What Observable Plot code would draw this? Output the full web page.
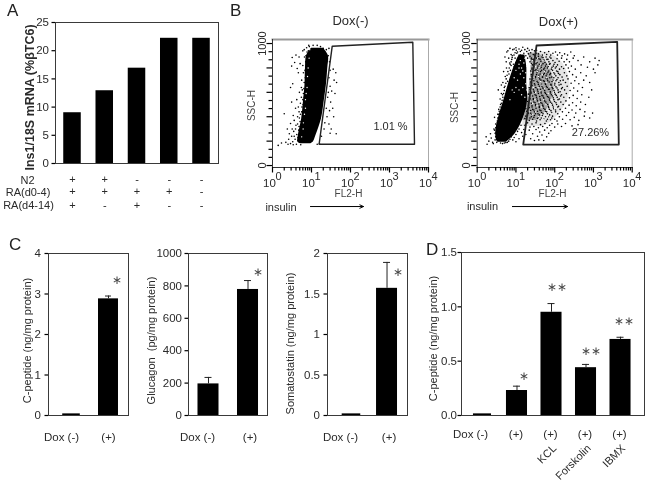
<!DOCTYPE html>
<html><head><meta charset="utf-8">
<script src="https://cdn.jsdelivr.net/npm/d3@7"></script>
<script src="https://cdn.jsdelivr.net/npm/@observablehq/plot@0.6"></script>
<style>
html,body{margin:0;padding:0;background:#fff}
#page{position:relative;width:648px;height:485px;overflow:hidden;font-family:'Liberation Sans',Arial,sans-serif;color:#222;filter:blur(0.3px)}
#page svg{position:absolute;overflow:visible;max-width:none}
.letter{position:absolute;font-size:17px;line-height:17px}
</style></head><body><div id="page"></div>
<script>
// Panel A
const aConditions=["c1","c2","c3","c4","c5"];
const aValues=[9,12.9,16.9,22.2,22.2];
const n2Row=["+","+","-","-","-"];
const ra04Row=["+","+","+","+","-"];
const ra414Row=["+","-","+","-","-"];
const aTicks=[0,5,10,15,20,25];
// Panel C
const doxCats=["Dox (-)","(+)"];
const cPeptide=[0.04,2.88], cPeptideErr=[null,2.95];
const glucagon=[195,778], glucagonErr=[235,833];
const somatostatin=[0.02,1.57], somatostatinErr=[null,1.89];
const cPeptideTicks=[0,1,2,3,4], glucagonTicks=[0,200,400,600,800,1000], somaTicks=[0,0.5,1,1.5,2];
// Panel D
const dCats=["Dox (-)","(+)","KCL","Forskolin","IBMX"];
const dValues=[0.015,0.23,0.95,0.44,0.70], dErr=[null,0.27,1.03,0.47,0.72];
const dTicks=[0,0.5,1,1.5];
// Panel B axes
const fl2Major=[1,10,100,1000,10000];
const fl2Minor=[2,3,4,5,6,7,8,9,20,30,40,50,60,70,80,90,200,300,400,500,600,700,800,900,2000,3000,4000,5000,6000,7000,8000,9000];
const sscMajor=[0,200,400,600,800,1000];
const sscMinor=[67,133,267,333,467,533,667,733,867,933];
// Gates (FL2-H, SSC-H)
const gateMinus=[[34,978],[3958,1011],[4375,175],[15.7,175],[34,978]];
const gatePlus=[[34,984],[4102,1014],[4510,172],[15.4,172],[34,984]];
// Dense cores [SSC-H, FL2-H low, FL2-H high]
const coreMinus=[[178,5.5,9.5],[191,4.5,11],[246,4.6,13],[382,5.6,18],[519,6.2,21],[656,6.8,24],[792,7,26],[902,7.5,27],[962,10,20]];
const corePlus=[[190,3.6,5.6],[197,3.3,6],[265,3,9.8],[400,3.6,16],[538,4.9,20],[675,6.5,19],[811,9,19],[907,12,17]];
const hazeInner=[[370,15,34],[450,18,60],[550,20,85],[650,22,95],[750,24,85],[850,24,60],[920,20,40]];
const hazeOuter=[[320,15,50],[350,15,75],[450,18,150],[550,20,220],[650,22,250],[750,24,220],[850,24,150],[930,20,70]];
// Individually read events
const dotsMinus=[[1.4,165],[1.7,185],[2.2,190],[2.5,175],[2.6,215],[2.9,180],[3.1,240],[3.3,195],[3.5,280],[3.4,170],[3.8,215],[3.9,300],[4.1,175],[4.2,255],[4.4,340],[4.5,205],[4.7,290],[4.9,390],[5,235],[5.3,170],[5.4,320],[5.6,440],[5.9,275],[6,365],[6.1,500],[6.3,400],[6.5,560],[6.8,455],[7,600],[7.2,520],[7.5,660],[5.2,510],[5.5,560],[4.6,480],[3.4,410],[2.9,345],[2.4,300],[2,425],[3.1,520],[3.9,470],[6.4,630],[6.9,720],[7.4,780],[7.1,850],[6.6,890],[7.7,930],[6.2,760],[5.6,700],[4.3,795],[3.7,845],[3.1,815],[3.2,885],[4,905],[4.8,890],[5.1,835],[4.6,760],[3.3,670],[2.9,640],[6,940],[7.5,965],[8.8,975],[28,960],[27,900],[29,850],[30,780],[28,720],[30,650],[27,600],[26,560],[31,520],[24,470],[29,450],[25,400],[22,350],[28,340],[21,300],[30,265],[18,240],[16,180],[14,175],[36,790],[42,760],[38,700],[44,680],[33,610],[40,590],[35,470],[37,400],[32,300],[43,260],[6.7,310],[7.6,420],[7.2,340],[6.6,250],[7.9,600],[8,700],[8.1,850],[7.8,480],[7.3,560],[5.8,620],
[5.5,200],[6,215],[5,260],[5.3,300],[5.6,345],[6,380],[6.3,430],[6.6,470],[7,510],[6.7,540],[7.1,570],[7.4,620],[7.6,690],[7.8,760],[8,820],[8.2,890],[8.3,940],[4.5,230],[4.8,320],[5.1,360],[5.2,420],[5.7,480],[6,540],[6.2,590],[6.5,680],[6.8,780],[7.2,900],[3.6,240],[4,330],[4.4,400],[4.8,440],[3.2,300],[2.7,260],[3.6,370],[4.2,540],[4.9,600],[5.5,640],[6,820],[6.5,950],[8.5,985],[11,985],[14,985],[17,975],[20,960],[24,950],[22,930]];
const flecksMinus=[[6.1,300],[6.6,420],[7,470],[7.3,590],[7.7,640],[7.9,730],[8.2,800],[8.7,880],[5.6,235],[9,950],[6.2,350],[7,540]];
const dotsPlus=[
[1.7,235],[2,200],[1.8,175],[2.3,225],[2.5,190],[2.2,260],[2.7,300],[2.9,210],[2.6,180],[3,340],[3.1,270],[3.2,190],[2.8,395],[3.4,420],[3.6,460],[3.3,350],[3.7,300],[4,500],[3.9,545],[4.2,590],[3.5,620],[5.2,890],[5.8,930],[6.5,880],[6.2,940],[7,960],[7.5,910],[8.3,950],[6.9,840],[5.7,800],[4.8,770],[5.3,730],[6.1,690],[4.6,680],[5,640],[4.2,660],[4.5,580],[5,530],[5.6,850],[7.8,870],[9,955],[8.6,830],[7.2,780],[6.6,750],
[3.2,215],[3.0,235],[2.9,265],[2.8,290],[3.0,310],[3.2,330],[3.3,365],[3.4,390],[3.5,420],[3.7,445],[3.9,480],[4.2,510],[4.4,535],[4.6,560],[4.8,590],[5,615],[5.2,650],[5.5,675],[5.6,710],[5.9,740],[6.2,770],[6.7,800],[7.1,830],[7.5,850],[8,885],[8.9,905],[9.5,925],[10.2,945],[4,185],[4.5,180],[5,185],[5.5,188],[6,190],[6.5,200],[7,215],[7.6,235],[8.3,210],[9,230],[10,255],[11,280],[12,300],[13.5,330],[10,195],[12,220],[14,270],
[10,965],[11,930],[12,955],[13,905],[14,945],[15,970],[16,920],[17,950],[18,900],[19,935],[20,960],[21,915],[22,945],[24,925],[26,950],[28,910],[30,940],[33,920],[25,880],[23,850],[27,825],[29,870],[26,790],
[34,945],[38,915],[43,935],[48,905],[55,925],[62,910],[70,935],[79,905],[90,920],[105,930],[118,905],[135,925],[155,900],[180,915],[215,905],[260,930],[320,900],
[28,860],[31,890],[35,845],[39,875],[44,855],[50,885],[56,845],[63,870],[71,850],[80,880],[90,860],[102,845],[115,875],[130,855],[150,880],[175,850],[205,870],[240,850],[300,880],[400,860],[560,890],[800,850],[1100,880],[1400,860],
[26,800],[30,830],[33,785],[37,815],[41,795],[46,825],[52,790],[58,815],[65,800],[73,830],[82,790],[92,815],[104,800],[118,825],[133,790],[150,810],[170,795],[195,825],[225,800],[270,815],[340,790],[480,825],[700,805],[1000,790],[1300,825],
[25,745],[28,770],[32,730],[35,760],[39,740],[43,770],[48,725],[54,755],[60,735],[67,765],[75,745],[84,725],[95,760],[107,735],[120,770],[136,745],[155,725],[178,760],[205,735],[240,770],[290,745],[360,725],[470,760],[650,735],[1100,760],
[24,685],[27,715],[30,670],[33,700],[37,680],[41,710],[46,665],[51,695],[57,675],[64,710],[72,685],[80,665],[90,700],[101,675],[114,705],[128,680],[145,665],[165,700],[190,680],[220,710],[265,675],[330,695],[420,670],[560,700],[800,680],
[23,625],[26,655],[29,610],[32,640],[36,620],[40,650],[44,605],[49,635],[55,615],[61,650],[69,625],[77,605],[86,640],[96,615],[108,645],[122,620],[138,605],[158,640],[180,620],[210,650],[250,615],[310,635],[390,610],[520,640],[900,620],
[22,565],[25,595],[28,550],[31,580],[34,560],[38,590],[42,545],[47,575],[52,555],[58,590],[65,565],[73,545],[82,580],[92,555],[103,585],[116,560],[132,545],[150,580],[172,560],[200,590],[240,555],[300,575],[380,550],[500,580],[760,560],
[21,505],[24,535],[26,490],[29,520],[32,500],[36,530],[40,485],[44,515],[49,495],[55,530],[62,505],[69,485],[78,520],[88,495],[99,525],[112,500],[126,485],[144,520],[165,500],[195,530],[235,495],[290,515],[360,490],[470,520],[620,500],
[19,445],[22,475],[24,430],[27,460],[30,440],[33,470],[37,425],[41,455],[46,435],[52,470],[58,445],[65,425],[73,460],[83,435],[94,465],[106,440],[120,425],[138,460],[158,440],[190,470],[230,435],[280,455],[350,430],[450,460],[600,440],[950,430],
[17,385],[20,415],[22,370],[25,400],[27,380],[30,410],[34,365],[38,395],[42,375],[48,410],[54,385],[61,365],[69,400],[78,375],[88,405],[100,380],[115,365],[132,400],[160,380],[200,410],[250,375],[320,395],[420,370],[580,405],[800,390],
[17,330],[20,350],[23,315],[26,340],[29,320],[33,350],[38,310],[43,335],[49,320],[56,345],[64,310],[74,330],[85,345],[100,315],[120,340],[150,320],[190,345],[280,325],[400,335],
[22,290],[27,260],[33,295],[36,240],[41,275],[47,250],[55,290],[62,235],[70,265],[80,285],[24,220],[30,205],[39,210],[52,205],[18,255],[16,295],[15,240],
[23,895],[26,870],[30,905],[34,880],[38,895],[42,870],[47,890],[53,865],[60,890],[67,870],[75,890],
[25,835],[29,810],[33,835],[36,800],[40,830],[45,805],[50,835],[55,800],[61,830],[68,810],[76,835],[85,805],[96,830],[110,810],
[24,775],[27,750],[31,780],[34,745],[37,775],[42,750],[46,780],[51,745],[57,775],[63,750],[70,775],[78,755],[88,780],[100,750],[112,775],[125,755],
[23,710],[26,730],[29,695],[32,720],[35,690],[39,725],[44,700],[49,725],[54,690],[60,715],[66,695],[75,720],[85,690],[95,720],[108,695],[122,720],[140,695],
[22,640],[25,670],[28,625],[31,660],[35,635],[38,665],[43,625],[47,650],[52,630],[58,665],[64,640],[72,625],[80,655],[90,630],[100,660],[115,635],[130,660],[150,630],
[21,585],[24,605],[27,570],[30,600],[33,575],[37,605],[41,565],[45,595],[50,570],[56,600],[62,580],[70,560],[78,595],[88,570],[98,600],[110,575],[125,600],[142,570],
[20,525],[23,550],[25,510],[28,540],[31,515],[35,545],[39,505],[43,535],[47,510],[53,545],[59,520],[66,500],[74,535],[84,510],[95,540],[108,515],[122,540],
[18,465],[21,490],[24,450],[26,480],[29,455],[32,490],[36,445],[40,475],[44,450],[50,485],[56,460],[62,440],[70,475],[80,450],[92,480],[105,455],[120,480],
[18,405],[21,430],[23,390],[26,420],[29,395],[32,425],[36,385],[40,415],[45,390],[50,425],[58,400],[65,380],[74,415],[84,390],
[7,700],[8,740],[8.5,780],[9,810],[7.5,820],[8,900],[9.5,880],[10,845],[11,870],[10.5,920],[12,885],[13,935],[15,890],[16,860],[9.5,780],[20,880]
];
const flecksPlus=[[11,900],[14,925],[17,880],[20,905],[13,860],[16,840],[19,815],[22,870],[12,800],[15,775],[18,760],[21,790],[24,830],[27,860],[30,885],[33,850],[36,880],[26,760],[29,790],[32,810],[36,770],[40,800],[44,830],[50,860],[23,720],[26,690],[29,725],[33,700],[38,730],[43,690],[48,745],[55,770],[62,720],[70,800],[22,650],[25,620],[28,640],[32,600],[37,640],[42,610],[47,660],[54,630],[60,680],[68,590],[76,650],[85,700],[96,770],[21,570],[24,530],[27,510],[31,540],[35,490],[40,520],[46,480],[52,540],[60,500],[70,450],[80,540],[92,600],[20,460],[23,440],[27,420],[32,440],[38,400],[45,420],[55,390],[66,400],[80,430],[100,470],
[9,720],[10,780],[12,830],[14,800],[11,700],[13,750],[16,720],[18,670],[15,640],[12,620],[10,640],[9,600],[14,580],[17,560],[19,620],[8,620],[7,540]];
// helper
const INK="#2a2a2a";
function place(svg,left,top){svg.style.left=left+"px";svg.style.top=top+"px";document.getElementById("page").append(svg);}
function noter(L,T,mL,mT){
  return (text,px,py,o={})=>Plot.text([text],{text:d=>d,frameAnchor:"top-left",textAnchor:"middle",lineAnchor:"middle",
    dx:px-(L+mL),dy:py-(T+mT),fill:INK,fontSize:11,...o});
}
function basePlot(g,marks){
  return Plot.plot({width:g.width,height:g.height,marginLeft:g.mL,marginRight:g.mR,marginTop:g.mT,marginBottom:g.mB,
    style:{fontFamily:"'Liberation Sans',Arial,sans-serif",fontSize:"11px",color:INK,background:"transparent"},
    x:g.x,y:g.y,marks});
}
// Short outward ticks: a frame-spanning tick inset so only the part beyond the frame edge remains.
function leftTicks(g,vals,size){return Plot.tickY(vals,{y:d=>d,insetLeft:-size,insetRight:g.width-g.mL-g.mR,stroke:"#000",strokeWidth:1.2});}
function bottomTicks(g,vals,size){return Plot.tickX(vals,{x:d=>d,insetTop:g.height-g.mT-g.mB,insetBottom:-size,stroke:"#000",strokeWidth:1.2});}
function panel(g){
  const note=noter(g.L,g.T,g.mL,g.mT);
  const rows=g.cats.map((c,i)=>({c,v:g.values[i],e:g.errs?g.errs[i]:null}));
  const withErr=rows.filter(r=>r.e!=null);
  const ins=g.firstInset||0;
  const marks=[
    Plot.barY(rows.slice(0,1),{x:"c",y1:0,y2:"v",fill:"#000",insetLeft:ins,insetRight:ins}),
    Plot.barY(rows.slice(1),{x:"c",y1:0,y2:"v",fill:"#000"}),
    Plot.ruleX(withErr,{x:"c",y1:"v",y2:"e",stroke:"#222",strokeWidth:1}),
    Plot.tickY(withErr,{x:"c",y:"e",stroke:"#222",strokeWidth:1,insetLeft:g.capInset||7,insetRight:g.capInset||7}),
    Plot.frame({stroke:"#3a3a3a",strokeWidth:1}),
    leftTicks(g,g.ticks,3.5),
    Plot.axisY(g.ticks,{tickSize:0,tickPadding:(g.tickPad??4)+3.5,fill:INK,tickFormat:g.fmt,label:null,fontSize:g.tickFont||11.5}),
    ...(g.extra?g.extra(note):[])
  ];
  place(basePlot(g,marks),g.L,g.T);
}
// Panel A
panel({L:0,T:0,width:225,height:225,mL:55,mR:7,mT:22,mB:62,
  x:{type:"band",domain:aConditions,range:[48.5,224.5],padding:0.457,round:false,axis:null},
  y:{domain:[0,25],axis:null},cats:aConditions,values:aValues,fmt:d=>String(d),ticks:aTicks,tickPad:3,
  extra:note=>{
    const rowMark=(vals,dy)=>Plot.text(aConditions,{x:d=>d,text:(d,i)=>vals[i],frameAnchor:"bottom",lineAnchor:"middle",dy,fill:INK,fontSize:11});
    return [rowMark(n2Row,16),rowMark(ra04Row,28),rowMark(ra414Row,42),
      note("N2",27,180),note("RA(d0-4)",27.5,191.5),note("RA(d4-14)",28,205),
      note("Ins1/18S mRNA (%βTC6)",29,97,{rotate:-90,fontWeight:"bold",fontSize:12.5})];
  }});
// Panel C
function doxLabels(cats,dx1,dx2){
  return [Plot.text(cats.slice(0,1),{x:d=>d,text:d=>d,frameAnchor:"bottom",lineAnchor:"middle",dx:dx1,dy:22,fill:INK,fontSize:11.5}),
          Plot.text(cats.slice(1),{x:d=>d,text:d=>d,frameAnchor:"bottom",lineAnchor:"middle",dx:dx2,dy:22,fill:INK,fontSize:11.5})];
}
function starMark(cats,y,dx,text="∗"){return Plot.text(cats,{x:d=>d,y:()=>y,text:()=>text,dx,lineAnchor:"middle",fill:"#444",fontSize:12});}
panel({L:0,T:230,width:140,height:220,mL:48,mR:12,mT:23,mB:35,firstInset:1.2,
  x:{type:"band",domain:doxCats,range:[44,135],padding:0.46,round:false,axis:null},
  y:{domain:[0,4],axis:null},cats:doxCats,values:cPeptide,errs:cPeptideErr,ticks:cPeptideTicks,fmt:d=>String(d),tickPad:4,
  extra:note=>[...doxLabels(doxCats,-10,0),starMark(["(+)"],3.33,9),note("C-peptide (ng/mg protein)",27,340,{rotate:-90})]});
panel({L:135,T:230,width:140,height:220,mL:53,mR:8,mT:23,mB:35,
  x:{type:"band",domain:doxCats,range:[44,141.5],padding:0.468,round:false,axis:null},
  y:{domain:[0,1000],axis:null},cats:doxCats,values:glucagon,errs:glucagonErr,ticks:glucagonTicks,fmt:d=>String(d),tickPad:3,
  extra:note=>[...doxLabels(doxCats,-11,2),starMark(["(+)"],885,10),note("Glucagon\u00A0\u00A0(pg/mg protein)",151,340,{rotate:-90})]});
panel({L:275,T:230,width:140,height:220,mL:52,mR:8,mT:23,mB:35,firstInset:1.2,
  x:{type:"band",domain:doxCats,range:[50.9,136.6],padding:0.41,round:false,axis:null},
  y:{domain:[0,2],axis:null},cats:doxCats,values:somatostatin,errs:somatostatinErr,ticks:somaTicks,fmt:d=>String(d),tickPad:4,
  extra:note=>[...doxLabels(doxCats,-11,2),starMark(["(+)"],1.77,10.5),note("Somatostatin (ng/mg protein)",290,343,{rotate:-90})]});
// Panel D
panel({L:425,T:230,width:223,height:255,mL:36,mR:4,mT:22,mB:70,firstInset:1.5,
  x:{type:"band",domain:dCats,range:[33,219],padding:0.39,round:false,axis:null},
  y:{domain:[0,1.5],axis:null},cats:dCats,values:dValues,errs:dErr,ticks:dTicks,fmt:d=>d.toFixed(1),tickPad:1,
  extra:note=>{
    const rot=dCats.slice(2);
    return [Plot.text(dCats.slice(1),{x:d=>d,text:()=>"(+)",frameAnchor:"bottom",lineAnchor:"middle",dy:19,dx:-1,fill:INK,fontSize:11.5}),
      note("Dox (-)",470,434,{fontSize:11.5}),
      Plot.text(rot,{x:d=>d,text:d=>d,frameAnchor:"bottom",lineAnchor:"middle",textAnchor:"end",rotate:-45,dx:3,dy:31,fill:INK,fontSize:11}),
      starMark(["(+)"],0.36,7),
      starMark(["KCL"],1.18,5,"∗∗"),
      starMark(["Forskolin"],0.59,5,"∗∗"),
      starMark(["IBMX"],0.865,3,"∗∗"),
      note("C-peptide (ng/mg protein)",433,338,{rotate:-90})];
  }});
// Panel B
function flow(g){
  const note=noter(g.L,g.T,g.mL,g.mT);
  const area=(rows,op)=>Plot.areaX(rows||[],{y:d=>d[0],x1:d=>d[1],x2:d=>d[2],fill:"#000",fillOpacity:op,curve:"catmull-rom"});
  const marks=[
    area(g.hazeOuter,0.1),area(g.hazeInner,0.28),area(g.core,1),
    Plot.dot(g.dots,{x:d=>d[0],y:d=>d[1],r:g.r,fill:"#000",stroke:"none"}),
    Plot.dot(g.flecks,{x:d=>d[0],y:d=>d[1],r:0.7,fill:"#fff",stroke:"none"}),
    Plot.line(g.gate,{x:d=>d[0],y:d=>d[1],stroke:"#222",strokeWidth:g.gateW}),
    Plot.frame({anchor:"top",stroke:"#999",strokeWidth:2}),
    Plot.frame({anchor:"right",stroke:"#aaa",strokeWidth:1}),
    Plot.frame({anchor:"left",stroke:"#333",strokeWidth:1}),
    Plot.frame({anchor:"bottom",stroke:"#333",strokeWidth:1}),
    bottomTicks(g,fl2Minor,3.5),bottomTicks(g,fl2Major,5.5),
    leftTicks(g,sscMinor,3.5),leftTicks(g,sscMajor,5.5),
    Plot.axisX(fl2Major,{tickSize:0,tickPadding:11,tickFormat:()=>"10",dx:-3,fill:INK,label:null,fontSize:11.5}),
    Plot.axisX(fl2Major,{tickSize:0,tickPadding:5,tickFormat:d=>String(Math.round(Math.log10(d))),dx:6,fill:INK,label:null,fontSize:11}),
    Plot.axisY([0,1000],{tickSize:0,tickPadding:7,tickRotate:-90,tickFormat:d=>String(d),fill:INK,label:null,fontSize:11}),
    Plot.arrow([g.arrow],{x1:d=>d[0],x2:d=>d[1],y1:d=>d[2],y2:d=>d[2],stroke:"#000",strokeWidth:1,bend:0,headLength:6,headAngle:50}),
    ...g.notes(note)
  ];
  place(basePlot(g,marks),g.L,g.T);
}
flow({L:225,T:0,width:215,height:225,mL:47,mR:12,mT:39,mB:58,r:0.8,gateW:1.4,
  x:{type:"log",domain:[1,10000],axis:null},y:{domain:[-16,1033],axis:null},
  core:coreMinus,dots:dotsMinus,flecks:flecksMinus,gate:gateMinus,arrow:[9.4,215,-336],
  notes:note=>[note("Dox(-)",350,20,{fontSize:13}),note("1.01 %",390,126),note("FL2-H",348,193,{fontSize:10,fill:"#444"}),
    note("SSC-H",251,105,{rotate:-90,fontSize:10,fill:"#444"}),note("insulin",280.5,207)]});
flow({L:440,T:0,width:208,height:225,mL:36.7,mR:16.3,mT:39,mB:58,r:0.8,gateW:1.8,
  x:{type:"log",domain:[1,10000],axis:null},y:{domain:[-16,1033],axis:null},
  core:corePlus,hazeInner,hazeOuter,dots:dotsPlus,flecks:flecksPlus,gate:gatePlus,arrow:[8.1,214,-336],
  notes:note=>[note("Dox(+)",558,21,{fontSize:13}),note("27.26%",590,132),note("FL2-H",552,193,{fontSize:10,fill:"#444"}),
    note("SSC-H",454,107,{rotate:-90,fontSize:10,fill:"#444"}),note("insulin",482,206)]});
// Panel letters
[["A",7,2],["B",230,2],["C",9,236],["D",426,241]].forEach(([t,x,y])=>{
  const d=document.createElement("div");d.className="letter";d.textContent=t;d.style.left=x+"px";d.style.top=y+"px";
  document.getElementById("page").append(d);
});
</script></body></html>
